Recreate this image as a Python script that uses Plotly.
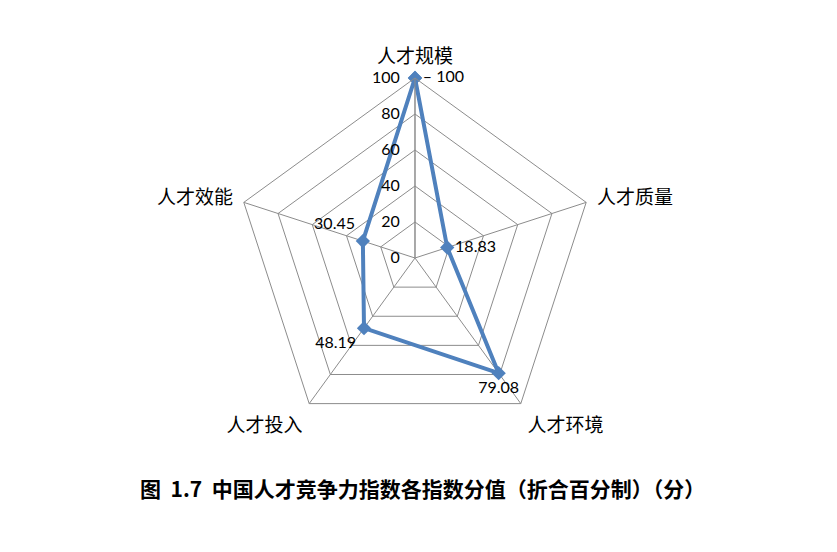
import plotly.graph_objects as go

# 各指数分值（折合百分制）
categorias = ["人才规模", "人才质量", "人才环境", "人才投入", "人才效能"]
valores = [100, 18.83, 79.08, 48.19, 30.45]
rotulos = ["– 100", "18.83", "79.08", "48.19", "30.45"]
posicoes = ["middle right", "middle right", "bottom center", "bottom left", "top left"]
ticks_radiais = [0, 20, 40, 60, 80, 100]

cor_linha = "#4F81BD"
cor_grade = "#8C8C8C"

fig = go.Figure()
fig.add_trace(go.Scatterpolar(
    r=valores + valores[:1],
    theta=categorias + categorias[:1],
    mode="lines+markers+text",
    text=rotulos + [""],
    textposition=posicoes + ["middle right"],
    textfont=dict(family="Lato, Liberation Sans", size=16, color="#000"),
    line=dict(color=cor_linha, width=4),
    marker=dict(symbol="diamond", size=11, color=cor_linha),
    cliponaxis=False,
    showlegend=False,
))

fig.update_layout(
    width=837, height=552,
    paper_bgcolor="white",
    margin=dict(l=0, r=0, t=0, b=0),
    polar=dict(
        domain=dict(x=[0.2712, 0.7013], y=[0.2210, 0.8732]),
        bgcolor="white",
        gridshape="linear",
        radialaxis=dict(
            range=[0, 100], tickvals=ticks_radiais, angle=90, tickangle=90,
            side="counterclockwise", showline=True, linecolor=cor_grade, linewidth=1,
            gridcolor=cor_grade, gridwidth=1,
            ticks="outside", ticklen=9, tickcolor="rgba(0,0,0,0)",
            tickfont=dict(family="Lato, Liberation Sans", size=16, color="#000"),
        ),
        angularaxis=dict(
            rotation=90, direction="clockwise",
            showline=True, linecolor=cor_grade, linewidth=1,
            gridcolor=cor_grade, gridwidth=1,
            ticks="outside", ticklen=7, tickcolor="rgba(0,0,0,0)",
            tickfont=dict(family="Noto Sans CJK SC", size=19, color="#000"),
        ),
    ),
    annotations=[dict(
        text="<b>图  1.7  中国人才竞争力指数各指数分值（折合百分制）（分）</b>",
        x=0.495, y=1 - 497 / 552, xref="paper", yref="paper",
        showarrow=False, font=dict(family="Noto Sans CJK SC", size=21, color="#000"),
    )],
)

fig.write_html("out.html")
